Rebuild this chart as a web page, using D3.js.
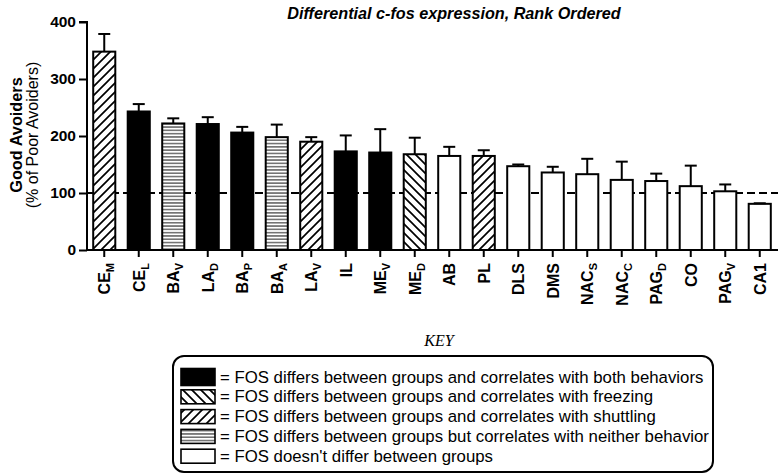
<!DOCTYPE html>
<html><head><meta charset="utf-8">
<script src="https://cdn.jsdelivr.net/npm/d3@7"></script>
<style>
html,body{margin:0;padding:0;background:#fff;}
svg{display:block;font-family:Arial,"Liberation Sans",sans-serif;}
</style></head>
<body>
<svg id="chart" width="778" height="476"></svg>
<script>
// ---- data ----
const regionNames = ["CE","CE","BA","LA","BA","BA","LA","IL","ME","ME","AB","PL","DLS","DMS","NAC","NAC","PAG","CO","PAG","CA1"];
const regionSubs  = ["M","L","V","D","P","A","V","","V","D","","","","","S","C","D","","V",""];
const meanValues  = [348,243,222,221,206,198,190,173,171,168,165,165,147,136,133,123,121,112,103,81];
const errorValues = [31,13,9,12,10,22,8,28,41,29,16,10,3,10,27,32,13,36,12,1];
const groupOf     = ["shuttle","both","neither","both","both","neither","shuttle","both","both","freeze","none","shuttle","none","none","none","none","none","none","none","none"];
const yTicks = [0,100,200,300,400];
const refLine = 100;
const legendGroups = ["both","freeze","shuttle","neither","none"];
const legendLabels = [
  "= FOS differs between groups and correlates with both behaviors",
  "= FOS differs between groups and correlates with freezing",
  "= FOS differs between groups and correlates with shuttling",
  "= FOS differs between groups but correlates with neither behavior",
  "= FOS doesn't differ between groups"
];
const titleText = "Differential c-fos expression, Rank Ordered";

// ---- drawing ----
const svg = d3.select("#chart");
const defs = svg.append("defs");

function hatch(id, d, size, sw){
  const p = defs.append("pattern").attr("id", id).attr("patternUnits","userSpaceOnUse")
    .attr("width", size).attr("height", size);
  p.append("rect").attr("width", size).attr("height", size).attr("fill","#fff");
  p.append("path").attr("d", d).attr("stroke","#000").attr("stroke-width", sw).attr("fill","none");
}
const s = 9;
hatch("pShuttle", `M0,${s} L${s},0 M${-s/2},${s/2} L${s/2},${-s/2} M${s/2},${s*1.5} L${s*1.5},${s/2}`, s, 1.7);
hatch("pFreeze", `M0,0 L${s},${s} M${-s/2},${s/2} L${s/2},${s*1.5} M${s/2},${-s/2} L${s*1.5},${s/2}`, s, 1.7);
hatch("pNeither", "M0,1.65 L10,1.65", 3.3, 0.9);

const fillOf = {both:"#000", freeze:"url(#pFreeze)", shuttle:"url(#pShuttle)", neither:"url(#pNeither)", none:"#fff"};

const x0 = 87, x1 = 777;
const x = d3.scaleBand().domain(d3.range(regionNames.length)).range([x0, x1])
  .paddingInner(0.36).paddingOuter(0.18);
const y = d3.scaleLinear().domain([0,400]).range([250,22]);

// title
svg.append("text").attr("x", 454).attr("y", 19).attr("text-anchor","middle")
  .attr("font-size", 16.2).attr("font-weight","bold").attr("font-style","italic").text(titleText);

// reference dashed line
svg.append("line").attr("x1", x0).attr("x2", 778).attr("y1", y(refLine)).attr("y2", y(refLine))
  .attr("stroke","#000").attr("stroke-width",2).attr("stroke-dasharray","8,4");

// bars
const bars = svg.append("g");
bars.selectAll("rect").data(meanValues).join("rect")
  .attr("x", (d,i)=>x(i)).attr("width", x.bandwidth())
  .attr("y", d=>y(d)).attr("height", d=>y(0)-y(d))
  .attr("fill", (d,i)=>fillOf[groupOf[i]])
  .attr("stroke","#000").attr("stroke-width",2);

// error bars
const eb = svg.append("g").attr("stroke","#000").attr("stroke-width",2);
meanValues.forEach((m,i)=>{
  const cx = x(i) + x.bandwidth()/2;
  eb.append("line").attr("x1",cx).attr("x2",cx).attr("y1",y(m)).attr("y2",y(m+errorValues[i]));
  eb.append("line").attr("x1",cx-6).attr("x2",cx+6).attr("y1",y(m+errorValues[i])).attr("y2",y(m+errorValues[i]));
});

// y axis
const yAxis = svg.append("g").attr("transform",`translate(${x0},0)`)
  .call(d3.axisLeft(y).tickValues(yTicks).tickSize(8).tickPadding(3).tickFormat(d3.format("d")));
yAxis.select(".domain").attr("stroke-width",2).attr("d", `M-8,${y(400)}H0V${y(0)}`);
yAxis.selectAll(".tick line").attr("stroke-width",2);
yAxis.selectAll(".tick text").attr("font-size",15.5).attr("font-weight","bold").attr("fill","#000")
  .attr("font-family","Arial, 'Liberation Sans', sans-serif");

// x axis
const xAxis = svg.append("g").attr("transform",`translate(0,${y(0)})`)
  .call(d3.axisBottom(x).tickSize(7).tickFormat(""));
xAxis.select(".domain").attr("stroke-width",2).attr("d", `M${x0},0H778`);
xAxis.selectAll(".tick line").attr("stroke-width",2);

// x labels (rotated, with subscripts)
const lab = svg.append("g");
regionNames.forEach((nm,i)=>{
  const cx = x(i) + x.bandwidth()/2;
  const t = lab.append("text").attr("transform",`translate(${cx+5.8},263) rotate(-90)`)
    .attr("text-anchor","end").attr("font-size",16).attr("font-weight","bold");
  t.append("tspan").text(nm);
  if (regionSubs[i]) {
    t.append("tspan").attr("font-size",11).attr("dy",4).text(regionSubs[i]);
  }
});

// y axis title
const yt = svg.append("g").attr("transform","translate(0,135)");
yt.append("text").attr("transform","translate(22,0) rotate(-90)").attr("text-anchor","middle")
  .attr("font-size",16.3).attr("font-weight","bold").text("Good Avoiders");
yt.append("text").attr("transform","translate(38,0) rotate(-90)").attr("text-anchor","middle")
  .attr("font-size",16).text("(% of Poor Avoiders)");

// KEY
svg.append("text").attr("x",439).attr("y",346).attr("text-anchor","middle")
  .attr("font-family","'Liberation Serif','Times New Roman',serif").attr("font-style","italic")
  .attr("font-size",16).text("KEY");

// legend box
svg.append("rect").attr("x",173).attr("y",356).attr("width",540).attr("height",116)
  .attr("rx",11).attr("ry",11).attr("fill","none").attr("stroke","#000").attr("stroke-width",2);

const lg = svg.append("g");
legendGroups.forEach((g,i)=>{
  const cy = 377 + i*19.8;
  const h = i===0 ? 17 : 14;
  lg.append("rect").attr("x",181).attr("y",cy-h/2).attr("width",34).attr("height",h)
    .attr("fill",fillOf[g]).attr("stroke","#000").attr("stroke-width",1.6);
  lg.append("text").attr("x",220).attr("y",cy+5.5).attr("font-size",16.8).text(legendLabels[i]);
});
</script>
</body></html>
